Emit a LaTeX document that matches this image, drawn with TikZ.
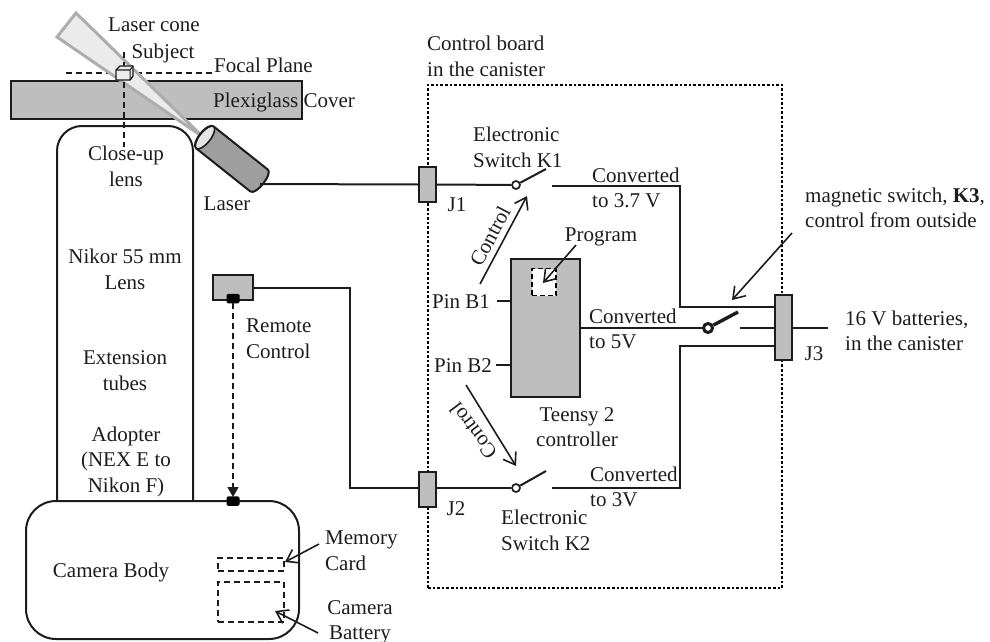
\documentclass[tikz,border=0pt]{standalone}
\usepackage{fontspec}
\setmainfont{Liberation Serif}
\usetikzlibrary{arrows.meta}

\definecolor{panelgray}{HTML}{BEBEBE}
\definecolor{inkgray}{HTML}{1C1C1C}

\tikzset{
  wire/.style={draw=inkgray,line width=2pt},
  caption/.style={text=inkgray,inner sep=0pt,align=center,font=\fontsize{21}{25.5}\selectfont},
  captionleft/.style={caption,align=left,anchor=west},
  jack/.style={draw=inkgray,fill=panelgray,line width=2pt,inner sep=0pt,minimum width=17pt},
  pad/.style={fill=black,rounded corners=1.5pt,inner sep=0pt,minimum width=13pt,minimum height=9.5pt},
  pointer/.style={draw=inkgray,line width=1.6pt,-{Straight Barb[length=11pt,width=15pt]}},
  contact/.style={circle,draw=inkgray,fill=white,line width=1.7pt,inner sep=0pt,minimum size=8pt},
  sightline/.style={draw=inkgray,line width=1.6pt,dash pattern=on 6pt off 4pt},
}

\begin{document}
\begin{tikzpicture}[x=1pt,y=-1pt]

\useasboundingbox (0,0) rectangle (990,642);

% Cover and focal plane
\node[draw=inkgray,fill=panelgray,line width=2pt,inner sep=0pt,minimum width=291pt,minimum height=38pt] (cover) at (156.5,100) {};
\coordinate (planeleft) at (66,73);
\coordinate (planeright) at (212,73);
\draw[sightline] (planeleft) -- (planeright);

% Laser cone
\fill[fill=black!8,draw=black!32,line width=3pt,line join=miter] (76,13) -- (57,37) -- (203,137) -- cycle;

% Lens and camera
\node[draw=inkgray,line width=2pt,rounded corners=25pt,inner sep=0pt,minimum width=136pt,minimum height=420pt] (lens) at (125,336) {};
\node[draw=inkgray,fill=white,line width=2pt,rounded corners=30pt,inner sep=0pt,minimum width=273pt,minimum height=138pt] (camera) at (162.5,570) {};

% Subject
\coordinate (axistop) at (124,52);
\coordinate (axisend) at (124,147);
\draw[sightline] (axistop) -- (axisend);
\fill[fill=black!8,draw=inkgray,line width=1.4pt] (116,70) -- (120,66) -- (133,66) -- (133,76) -- (130,80) -- (116,80) -- cycle;
\draw[inkgray,line width=1pt] (116,70) -- (130,70) -- (130,80) (130,70) -- (133,66);

% Laser
\begin{scope}[shift={(205,137.5)},rotate=-38.5]
\fill[fill=black!38,draw=inkgray,line width=2pt] (0,-14) -- (69,-14) .. controls (76,-14) and (76,14) .. (69,14) -- (0,14) .. controls (-8,14) and (-8,-14) .. (0,-14) -- cycle;
\fill[fill=black!10,draw=inkgray,line width=1.6pt] (0,0) ellipse [x radius=5.5,y radius=14];
\end{scope}

% Canister
\node[draw=black,line width=2.6pt,dotted,inner sep=0pt,minimum width=354pt,minimum height=503pt] (canister) at (605,336.5) {};

% Connectors
\node[jack,minimum height=35pt] (jone) at (427.5,184.5) {};
\node[jack,minimum height=35pt] (jtwo) at (427.5,489.5) {};
\node[jack,minimum height=65pt] (jthree) at (783,327.5) {};

% Remote
\node[draw=inkgray,fill=panelgray,line width=2pt,inner sep=0pt,minimum width=40pt,minimum height=25pt] (remote) at (233,287.5) {};
\node[pad] (remotepad) at (233,298.5) {};
\node[pad] (camerapad) at (233,501) {};
\draw[sightline,-{Triangle[length=10pt,width=11pt]}] (remotepad) -- ([yshift=-1pt]camerapad.north);

% Controller
\node[draw=inkgray,fill=panelgray,line width=2pt,inner sep=0pt,minimum width=69pt,minimum height=138pt] (teensy) at (545.5,328) {};
\node[draw=black,fill=white,line width=1.6pt,dash pattern=on 5pt off 3pt,inner sep=0pt,minimum width=24pt,minimum height=27pt] (program) at (544,282) {};

% Switches
\node[contact] (kone) at (516,185) {};
\node[contact] (ktwo) at (516,488) {};
\node[contact,line width=3pt,minimum size=9pt] (kthree) at (708,328) {};
\coordinate (koneopen) at (546,169);
\coordinate (ktwoopen) at (546,471);
\coordinate (kthreeopen) at (738,312);
\draw[wire] (kone) -- (koneopen);
\draw[wire] (ktwo) -- (ktwoopen);
\draw[inkgray,line width=3.4pt] (kthree) -- (kthreeopen);

% Wires
\coordinate (laserout) at (260,184);
\coordinate (koneout) at (552,186);
\coordinate (ktwoout) at (552,488);
\coordinate (kthreeout) at (740,328);
\coordinate (battery) at (828,328);
\coordinate (pinone) at (497,301);
\coordinate (pintwo) at (496,365);
\draw[wire] (laserout) -- (jone.west);
\draw[wire] (jone.east) -- (kone);
\draw[wire] (jtwo.east |- ktwo) -- (ktwo);
\draw[wire] (remote.east) -- (350,287.5) |- (jtwo.west |- ktwo);
\draw[wire] (koneout) -- (680,186) |- (774,307);
\draw[wire] (ktwoout) -- (680,488) |- (774,346);
\draw[wire] (teensy.east |- kthree) -- (kthree);
\draw[wire] (kthreeout) -- (jthree.west |- kthreeout);
\draw[wire] (jthree.east |- battery) -- (battery);
\draw[wire] (pinone) -- (teensy.west |- pinone);
\draw[wire] (pintwo) -- (teensy.west |- pintwo);

% Memory and battery
\node[sightline,draw=inkgray,inner sep=0pt,minimum width=66pt,minimum height=13pt] (memory) at (251,564.5) {};
\node[sightline,draw=inkgray,inner sep=0pt,minimum width=66pt,minimum height=40pt] (camerabatt) at (251,602) {};

% Pointers
\coordinate (ctrlonestart) at (480,284);
\coordinate (ctrloneend) at (527,196);
\coordinate (ctrltwostart) at (466,385);
\coordinate (ctrltwoend) at (516,466);
\draw[pointer] (ctrlonestart) -- (ctrloneend);
\draw[pointer] (ctrltwostart) -- (ctrltwoend);
\coordinate (programfrom) at (576,245);
\coordinate (programto) at (543,283);
\draw[pointer] (programfrom) -- (programto);
\coordinate (magfrom) at (792,233);
\coordinate (magto) at (732,300);
\draw[pointer] (magfrom) -- (magto);
\coordinate (memfrom) at (319,544);
\coordinate (memto) at (285,562);
\draw[pointer] (memfrom) -- (memto);
\coordinate (battfrom) at (318,633);
\coordinate (battto) at (275,611);
\draw[pointer] (battfrom) -- (battto);

% Labels on the left
\node[caption] (conelabel) at (154,25) {Laser cone};
\node[caption] (subjectlabel) at (163,53) {Subject};
\node[captionleft] (focallabel) at (214,65) {Focal Plane};
\node[captionleft] (coverlabel) at (213,102) {Plexiglass Cover};
\node[caption] (closeuplabel) at (126,166.5) {Close-up\\lens};
\node[caption] (laserlabel) at (227,204) {Laser};
\node[caption] (nikorlabel) at (125,269.5) {Nikor 55 mm\\Lens};
\node[caption] (extensionlabel) at (125,370.5) {Extension\\tubes};
\node[caption] (adopterlabel) at (126,461.5) {Adopter\\(NEX E to\\Nikon F)};
\node[caption] (bodylabel) at (111,572) {Camera Body};
\node[captionleft] (memorylabel) at (325,550.5) {Memory\\Card};
\node[caption] (batterylabel) at (360,622.5) {Camera\\Battery};
\node[captionleft] (remotelabel) at (246,338.5) {Remote\\Control};

% Labels on the board
\node[captionleft] (boardlabel) at (427,56.5) {Control board\\in the canister};
\node[captionleft] (konelabel) at (473,147.5) {Electronic\\Switch K1};
\node[captionleft] (vonelabel) at (592,188) {Converted\\to 3.7 V};
\node[caption] (jonelabel) at (457,205) {J1};
\node[caption,rotate=62] (ctrlonelabel) at (490,236) {Control};
\node[caption] (programlabel) at (601,237) {Program};
\node[captionleft] (pinonelabel) at (432,302) {Pin B1};
\node[captionleft] (pintwolabel) at (434,366) {Pin B2};
\node[captionleft] (vtwolabel) at (589,329) {Converted\\to 5V};
\node[caption,rotate=127] (ctrltwolabel) at (473,431) {Control};
\node[caption] (teensylabel) at (577,427) {Teensy 2\\controller};
\node[caption] (jtwolabel) at (456,509) {J2};
\node[captionleft] (ktwolabel) at (501,530.5) {Electronic\\Switch K2};
\node[captionleft] (vthreelabel) at (590,487) {Converted\\to 3V};

% Labels on the right
\node[caption] (jthreelabel) at (814,354) {J3};
\node[captionleft] (magneticlabel) at (805,208) {magnetic switch, \textbf{K3},\\control from outside};
\node[captionleft] (packlabel) at (845,331) {16 V batteries,\\in the canister};

\end{tikzpicture}
\end{document}
